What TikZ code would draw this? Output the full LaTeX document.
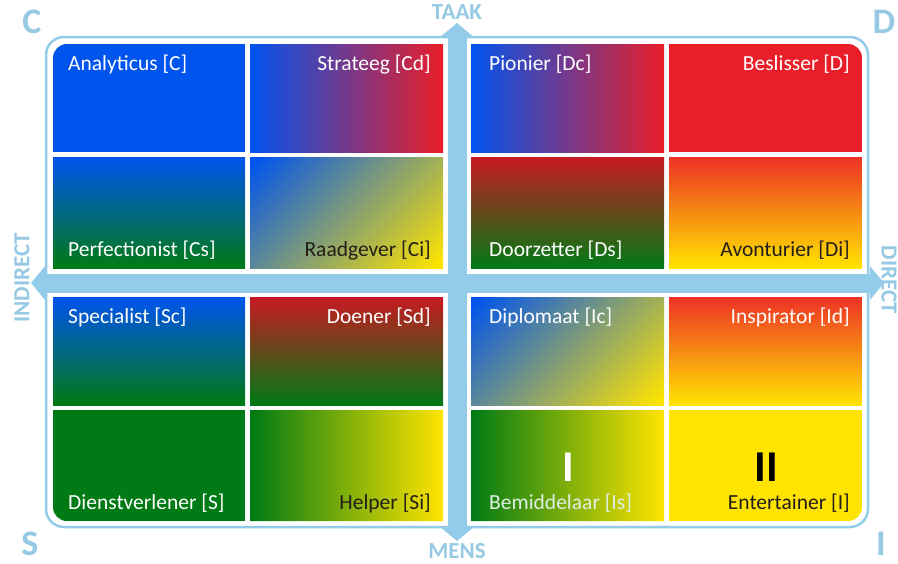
\documentclass[tikz,border=0pt]{standalone}
\usepackage{fontspec}
\setmainfont{Carlito}
\usetikzlibrary{arrows.meta}
\definecolor{cblue}{RGB}{0,84,238}
\definecolor{cred}{RGB}{234,30,40}
\definecolor{cgreen}{RGB}{0,122,20}
\definecolor{cyellow}{RGB}{255,228,0}
\definecolor{corange}{RGB}{238,50,38}
\definecolor{lblue}{RGB}{146,204,232}
\definecolor{tblue}{RGB}{150,202,228}
\definecolor{dtext}{RGB}{35,30,25}
\pgfdeclarehorizontalshading{diagBY}{100bp}{color(0bp)=(cblue); color(16bp)=(cblue); color(84bp)=(cyellow); color(100bp)=(cyellow)}
\tikzset{
  cellbox/.style={rectangle, inner sep=0pt, outer sep=0pt, minimum width=192pt, minimum height=108pt, anchor=north west},
  diagshade/.style={shade, shading=diagBY, shading angle=-45},
  celllbl/.style={inner sep=0pt, font=\fontsize{21.5}{24}\selectfont, text=white},
  axislbl/.style={inner sep=0pt, font=\fontsize{23}{25}\selectfont\bfseries, text=tblue},
  cornerlbl/.style={inner sep=0pt, font=\fontsize{36}{40}\selectfont\bfseries, text=tblue, anchor=base},
  crossline/.style={draw=lblue, line width=19pt, {Triangle[width=33pt,length=14pt]}-{Triangle[width=33pt,length=14pt]}},
  romanlbl/.style={inner sep=0pt, font=\fontsize{44}{48}\selectfont\bfseries},
}
\begin{document}
\begin{tikzpicture}[x=1pt,y=-1pt]
\useasboundingbox (0,0) rectangle (898,563);
% outer outline
\draw[lblue, line width=2.5pt, rounded corners=18pt] (46,37) rectangle (868,527);
\begin{scope}
\clip[rounded corners=14pt] (53,44) rectangle (862,521);
% top-left quadrant
\node[cellbox, fill=cblue] (c11) at (53,44) {};
\node[cellbox, left color=cblue, right color=cred, minimum width=193pt] (c12) at (250,44) {};
\node[cellbox, top color=cblue, bottom color=cgreen, minimum height=111pt] (c21) at (53,157) {};
\node[cellbox, diagshade, minimum width=193pt, minimum height=111pt] (c22) at (250,157) {};
% top-right quadrant
\node[cellbox, left color=cblue, right color=cred, minimum width=193pt] (c13) at (471,44) {};
\node[cellbox, fill=cred, minimum width=193pt] (c14) at (669,44) {};
\node[cellbox, top color=cred!85!black, bottom color=cgreen, minimum width=193pt, minimum height=111pt] (c23) at (471,157) {};
\node[cellbox, top color=corange, bottom color=cyellow, minimum width=193pt, minimum height=111pt] (c24) at (669,157) {};
% bottom-left quadrant
\node[cellbox, top color=cblue, bottom color=cgreen] (c31) at (53,297) {};
\node[cellbox, top color=cred!85!black, bottom color=cgreen, minimum width=193pt] (c32) at (250,297) {};
\node[cellbox, fill=cgreen, minimum height=111pt] (c41) at (53,410) {};
\node[cellbox, left color=cgreen, right color=cyellow, minimum width=193pt, minimum height=111pt] (c42) at (250,410) {};
% bottom-right quadrant
\node[cellbox, diagshade, minimum width=193pt] (c33) at (471,297) {};
\node[cellbox, top color=corange, bottom color=cyellow, minimum width=193pt] (c34) at (669,297) {};
\node[cellbox, left color=cgreen, right color=cyellow, minimum width=193pt, minimum height=111pt] (c43) at (471,410) {};
\node[cellbox, fill=cyellow, minimum width=193pt, minimum height=111pt] (c44) at (669,410) {};
\end{scope}
% cell labels
\node[celllbl, anchor=base west] at ([shift={(15,26)}]c11.north west) {Analyticus [C]};
\node[celllbl, anchor=base east] at ([shift={(-12,26)}]c12.north east) {Strateeg [Cd]};
\node[celllbl, anchor=base west] at ([shift={(15,-12)}]c21.south west) {Perfectionist [Cs]};
\node[celllbl, anchor=base east, text=dtext] at ([shift={(-12,-12)}]c22.south east) {Raadgever [Ci]};
\node[celllbl, anchor=base west] at ([shift={(18,26)}]c13.north west) {Pionier [Dc]};
\node[celllbl, anchor=base east] at ([shift={(-12,26)}]c14.north east) {Beslisser [D]};
\node[celllbl, anchor=base west] at ([shift={(18,-12)}]c23.south west) {Doorzetter [Ds]};
\node[celllbl, anchor=base east, text=dtext] at ([shift={(-12,-12)}]c24.south east) {Avonturier [Di]};
\node[celllbl, anchor=base west] at ([shift={(15,26)}]c31.north west) {Specialist [Sc]};
\node[celllbl, anchor=base east] at ([shift={(-12,26)}]c32.north east) {Doener [Sd]};
\node[celllbl, anchor=base west] at ([shift={(15,-12)}]c41.south west) {Dienstverlener [S]};
\node[celllbl, anchor=base east, text=dtext] at ([shift={(-12,-12)}]c42.south east) {Helper [Si]};
\node[celllbl, anchor=base west] at ([shift={(18,26)}]c33.north west) {Diplomaat [Ic]};
\node[celllbl, anchor=base east] at ([shift={(-12,26)}]c34.north east) {Inspirator [Id]};
\node[celllbl, anchor=base west, text=white!88!cgreen] at ([shift={(18,-12)}]c43.south west) {Bemiddelaar [Is]};
\node[celllbl, anchor=base east, text=dtext] at ([shift={(-12,-12)}]c44.south east) {Entertainer [I]};
% roman numerals
\node[romanlbl, text=white] (r1) at (568,467) {I};
\node[romanlbl, text=black] (r2) at (766,467) {II};
% cross arrows
\coordinate (taakTip) at (457,23);
\coordinate (mensTip) at (457,541);
\coordinate (indTip) at (31,283);
\coordinate (dirTip) at (884,283);
\draw[crossline] (indTip) -- (dirTip);
\draw[crossline] (taakTip) -- (mensTip);
% axis labels
\node[axislbl] (taak) at (457,12) {TAAK};
\node[axislbl] (mens) at (457,551) {MENS};
\node[axislbl, rotate=90] (indirect) at (22,278) {INDIRECT};
\node[axislbl, rotate=-90] (direct) at (889,280) {DIRECT};
% corner letters
\node[cornerlbl] (cC) at (32,33) {C};
\node[cornerlbl] (cD) at (884,33) {D};
\node[cornerlbl] (cS) at (30,555) {S};
\node[cornerlbl] (cI) at (881,555) {I};
\end{tikzpicture}
\end{document}
